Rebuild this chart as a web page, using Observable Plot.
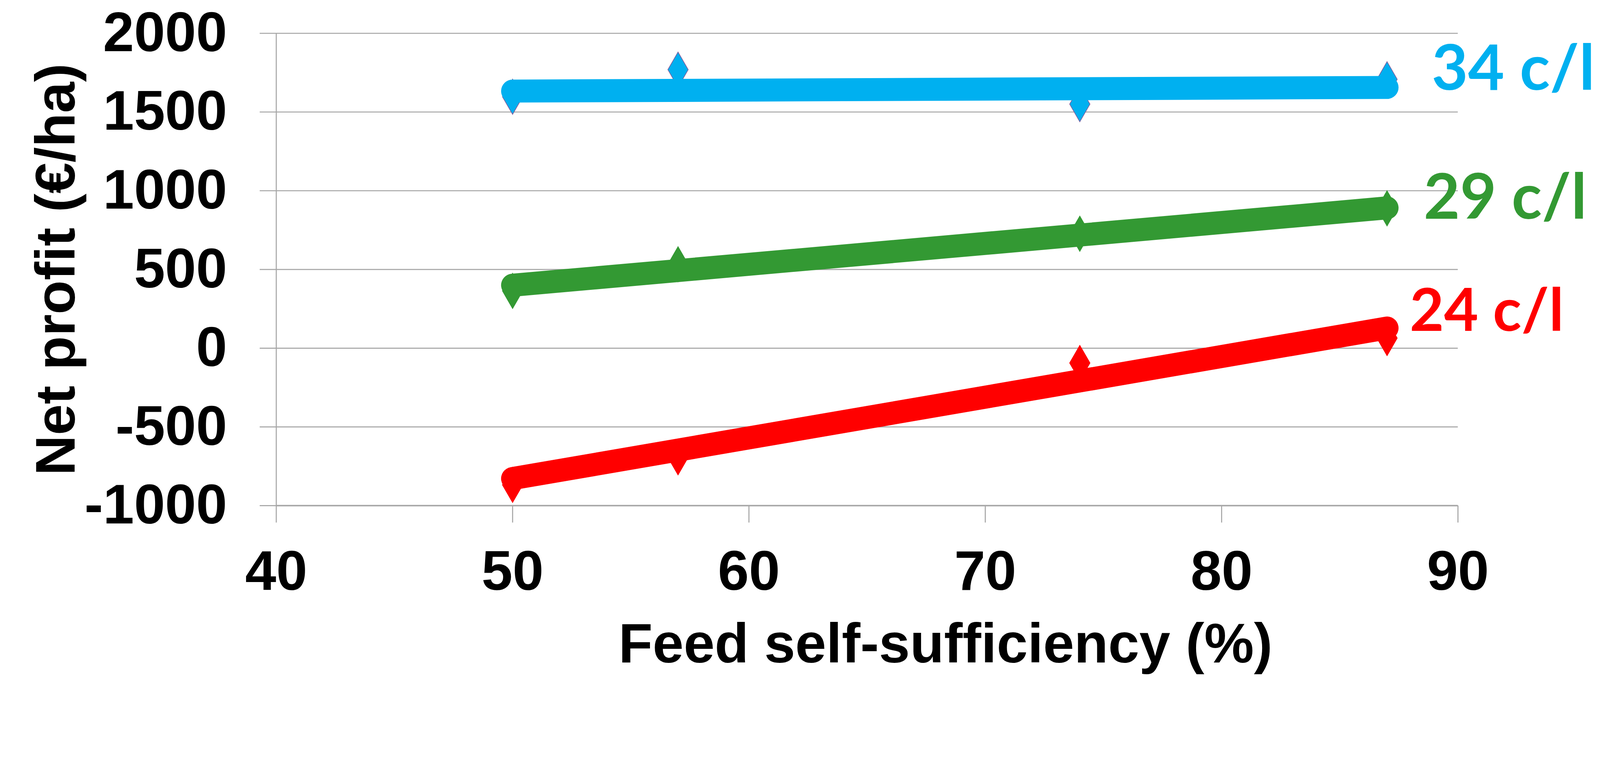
<!DOCTYPE html>
<html>
<head>
<meta charset="utf-8">
<script src="https://cdn.jsdelivr.net/npm/d3@7"></script>
<script src="https://cdn.jsdelivr.net/npm/@observablehq/plot@0.6"></script>
<style>
  html, body { margin: 0; padding: 0; background: #fff; overflow: hidden; }
</style>
</head>
<body>
<div id="chart"></div>
<script>
// Observed points (feed self-sufficiency %, net profit €/ha)
const selfSufficiency = [50, 57, 74, 87];
const profit34 = [1597, 1769, 1550, 1708];
const profit29 = [364, 533, 727, 888];
const profit24 = [-868, -693, -94, 64];

// Trend line end points as drawn
const trendX = [50, 87];
const trend34 = [1633, 1656];
const trend29 = [400, 891];
const trend24 = [-828, 128];

const seriesNames = ["34 c/l", "29 c/l", "24 c/l"];
const xTicks = [40, 50, 60, 70, 80, 90];
const yTicks = [-1000, -500, 0, 500, 1000, 1500, 2000];
const xTitle = "Feed self-sufficiency (%)";
const yTitle = "Net profit (€/ha)";

const colors = {"34 c/l": "#00B0F0", "29 c/l": "#339933", "24 c/l": "#FF0000"};
const markerStroke = {"34 c/l": "#8064A2", "29 c/l": "#339933", "24 c/l": "#FF0000"};
const labelStyle = {
  "34 c/l": {dx: 128, dy: -51, fontSize: 180},
  "29 c/l": {dx: 105, dy: -26, fontSize: 180},
  "24 c/l": {dx: 65, dy: -46, fontSize: 170}
};

const pointValues = [profit34, profit29, profit24];
const trendValues = [trend34, trend29, trend24];

const points = seriesNames.flatMap((s, i) =>
  selfSufficiency.map((x, j) => ({series: s, x, y: pointValues[i][j]})));
const trends = seriesNames.flatMap((s, i) =>
  trendX.map((x, j) => ({series: s, x, y: trendValues[i][j]})));

const grey = "#A6A6A6";

const marks = [
  Plot.gridY(yTicks, {stroke: grey, strokeOpacity: 1, strokeWidth: 3}),
  Plot.ruleY([-1000], {stroke: grey, strokeWidth: 4}),
  Plot.ruleX([40], {stroke: grey, strokeWidth: 3}),
  Plot.axisY(yTicks, {
    tickSize: 47, tickPadding: 94, fontSize: 160, stroke: grey, strokeWidth: 3,
    fill: "black", label: null, tickFormat: d => String(d)
  }),
  Plot.axisX(xTicks, {
    tickSize: 49, tickPadding: 79, fontSize: 160, stroke: grey, strokeWidth: 3,
    fill: "black", label: null, tickFormat: d => String(d)
  }),
  ...seriesNames.map(s => Plot.dot(points.filter(d => d.series === s), {
    x: "x", y: "y", symbol: "diamond", r: 30.6,
    fill: colors[s], stroke: markerStroke[s], strokeWidth: 2
  })),
  ...seriesNames.map(s => Plot.line(trends.filter(d => d.series === s), {
    x: "x", y: "y", stroke: colors[s], strokeWidth: 66, strokeLinecap: "round"
  })),
  ...seriesNames.map(s => Plot.text(trends.filter(d => d.series === s && d.x === trendX[1]), {
    x: "x", y: "y", text: d => d.series, fill: colors[s],
    textAnchor: "start", lineAnchor: "middle",
    dx: labelStyle[s].dx, dy: labelStyle[s].dy,
    fontSize: labelStyle[s].fontSize, fontWeight: "bold", fontFamily: "Lato"
  })),
  Plot.text([yTitle], {
    frameAnchor: "left", rotate: -90, dx: -630, textAnchor: "middle", lineAnchor: "middle",
    fontSize: 160, fontWeight: "bold", fill: "black"
  }),
  Plot.text([xTitle], {
    frameAnchor: "bottom", dx: 225, dy: 399, textAnchor: "middle", lineAnchor: "middle",
    fontSize: 160, fontWeight: "bold", fill: "black"
  })
];

const chart = Plot.plot({
  width: 4590,
  height: 1943,
  marginLeft: 792,
  marginRight: 408,
  marginTop: 95,
  marginBottom: 493,
  x: {domain: [40, 90]},
  y: {domain: [-1000, 2000]},
  style: {background: "white", fontFamily: "'Liberation Sans', Arial, sans-serif", fontWeight: "bold", color: "black", overflow: "visible"},
  marks
});
document.getElementById("chart").appendChild(chart);
</script>
</body>
</html>
